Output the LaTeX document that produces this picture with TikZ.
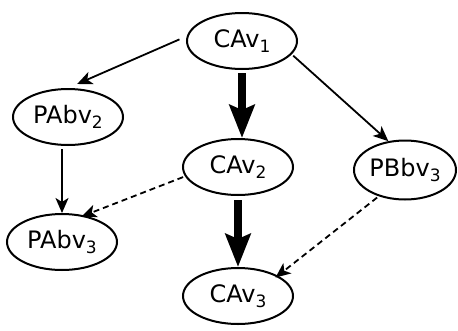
\documentclass[tikz,border=0pt]{standalone}
\usepackage{fontspec}
\setmainfont{DejaVu Sans}
\usetikzlibrary{shapes.geometric,arrows.meta}

\newcommand{\nsub}[1]{\raisebox{-4.5pt}{\fontsize{17}{17}\selectfont #1}}

\begin{document}
\begin{tikzpicture}[
    x=1pt, y=-1pt,
    state/.style={ellipse, draw, line width=2pt, inner sep=0pt, minimum width=110pt, minimum height=56pt, font=\fontsize{24}{28}\selectfont},
    arrow/.style={-{Stealth[length=15pt, width=13pt, inset=4pt]}, line width=1.8pt},
    strong/.style={-{Stealth[length=33pt, width=25pt, inset=5pt]}, line width=8pt},
    weak/.style={arrow, dash pattern=on 6pt off 4pt},
]
\useasboundingbox (0,0) rectangle (458,330);

% Nodes
\node[state] (cav1) at (242,41) {CAv\nsub{1}};
\node[state] (pabv2) at (68,117) {PAbv\nsub{2}};
\node[state] (cav2) at (238,167) {CAv\nsub{2}};
\node[state, minimum width=102pt, minimum height=59pt] (pbbv3) at (405,170) {PBbv\nsub{3}};
\node[state] (pabv3) at (62,242) {PAbv\nsub{3}};
\node[state] (cav3) at (238,296) {CAv\nsub{3}};

% Relations
\draw[arrow, shorten <=8pt, shorten >=10pt] (cav1.175) -- (pabv2.north);
\draw[arrow, shorten <=2pt] (cav1.-15) -- (pbbv3.120);
\draw[strong, shorten <=3pt] (cav1.south) -- (cav1.south |- cav2.north);
\draw[arrow, shorten <=3pt] (pabv3.north |- pabv2.south) -- (pabv3.north);
\draw[weak, shorten <=2pt, shorten >=-3pt] (cav2.190) -- (pabv3.50);
\draw[strong, shorten <=4pt] (cav2.south) -- (cav3.north);
\draw[weak, shorten <=2pt, shorten >=-3pt] (pbbv3.225) -- (cav3.27);

\end{tikzpicture}
\end{document}
